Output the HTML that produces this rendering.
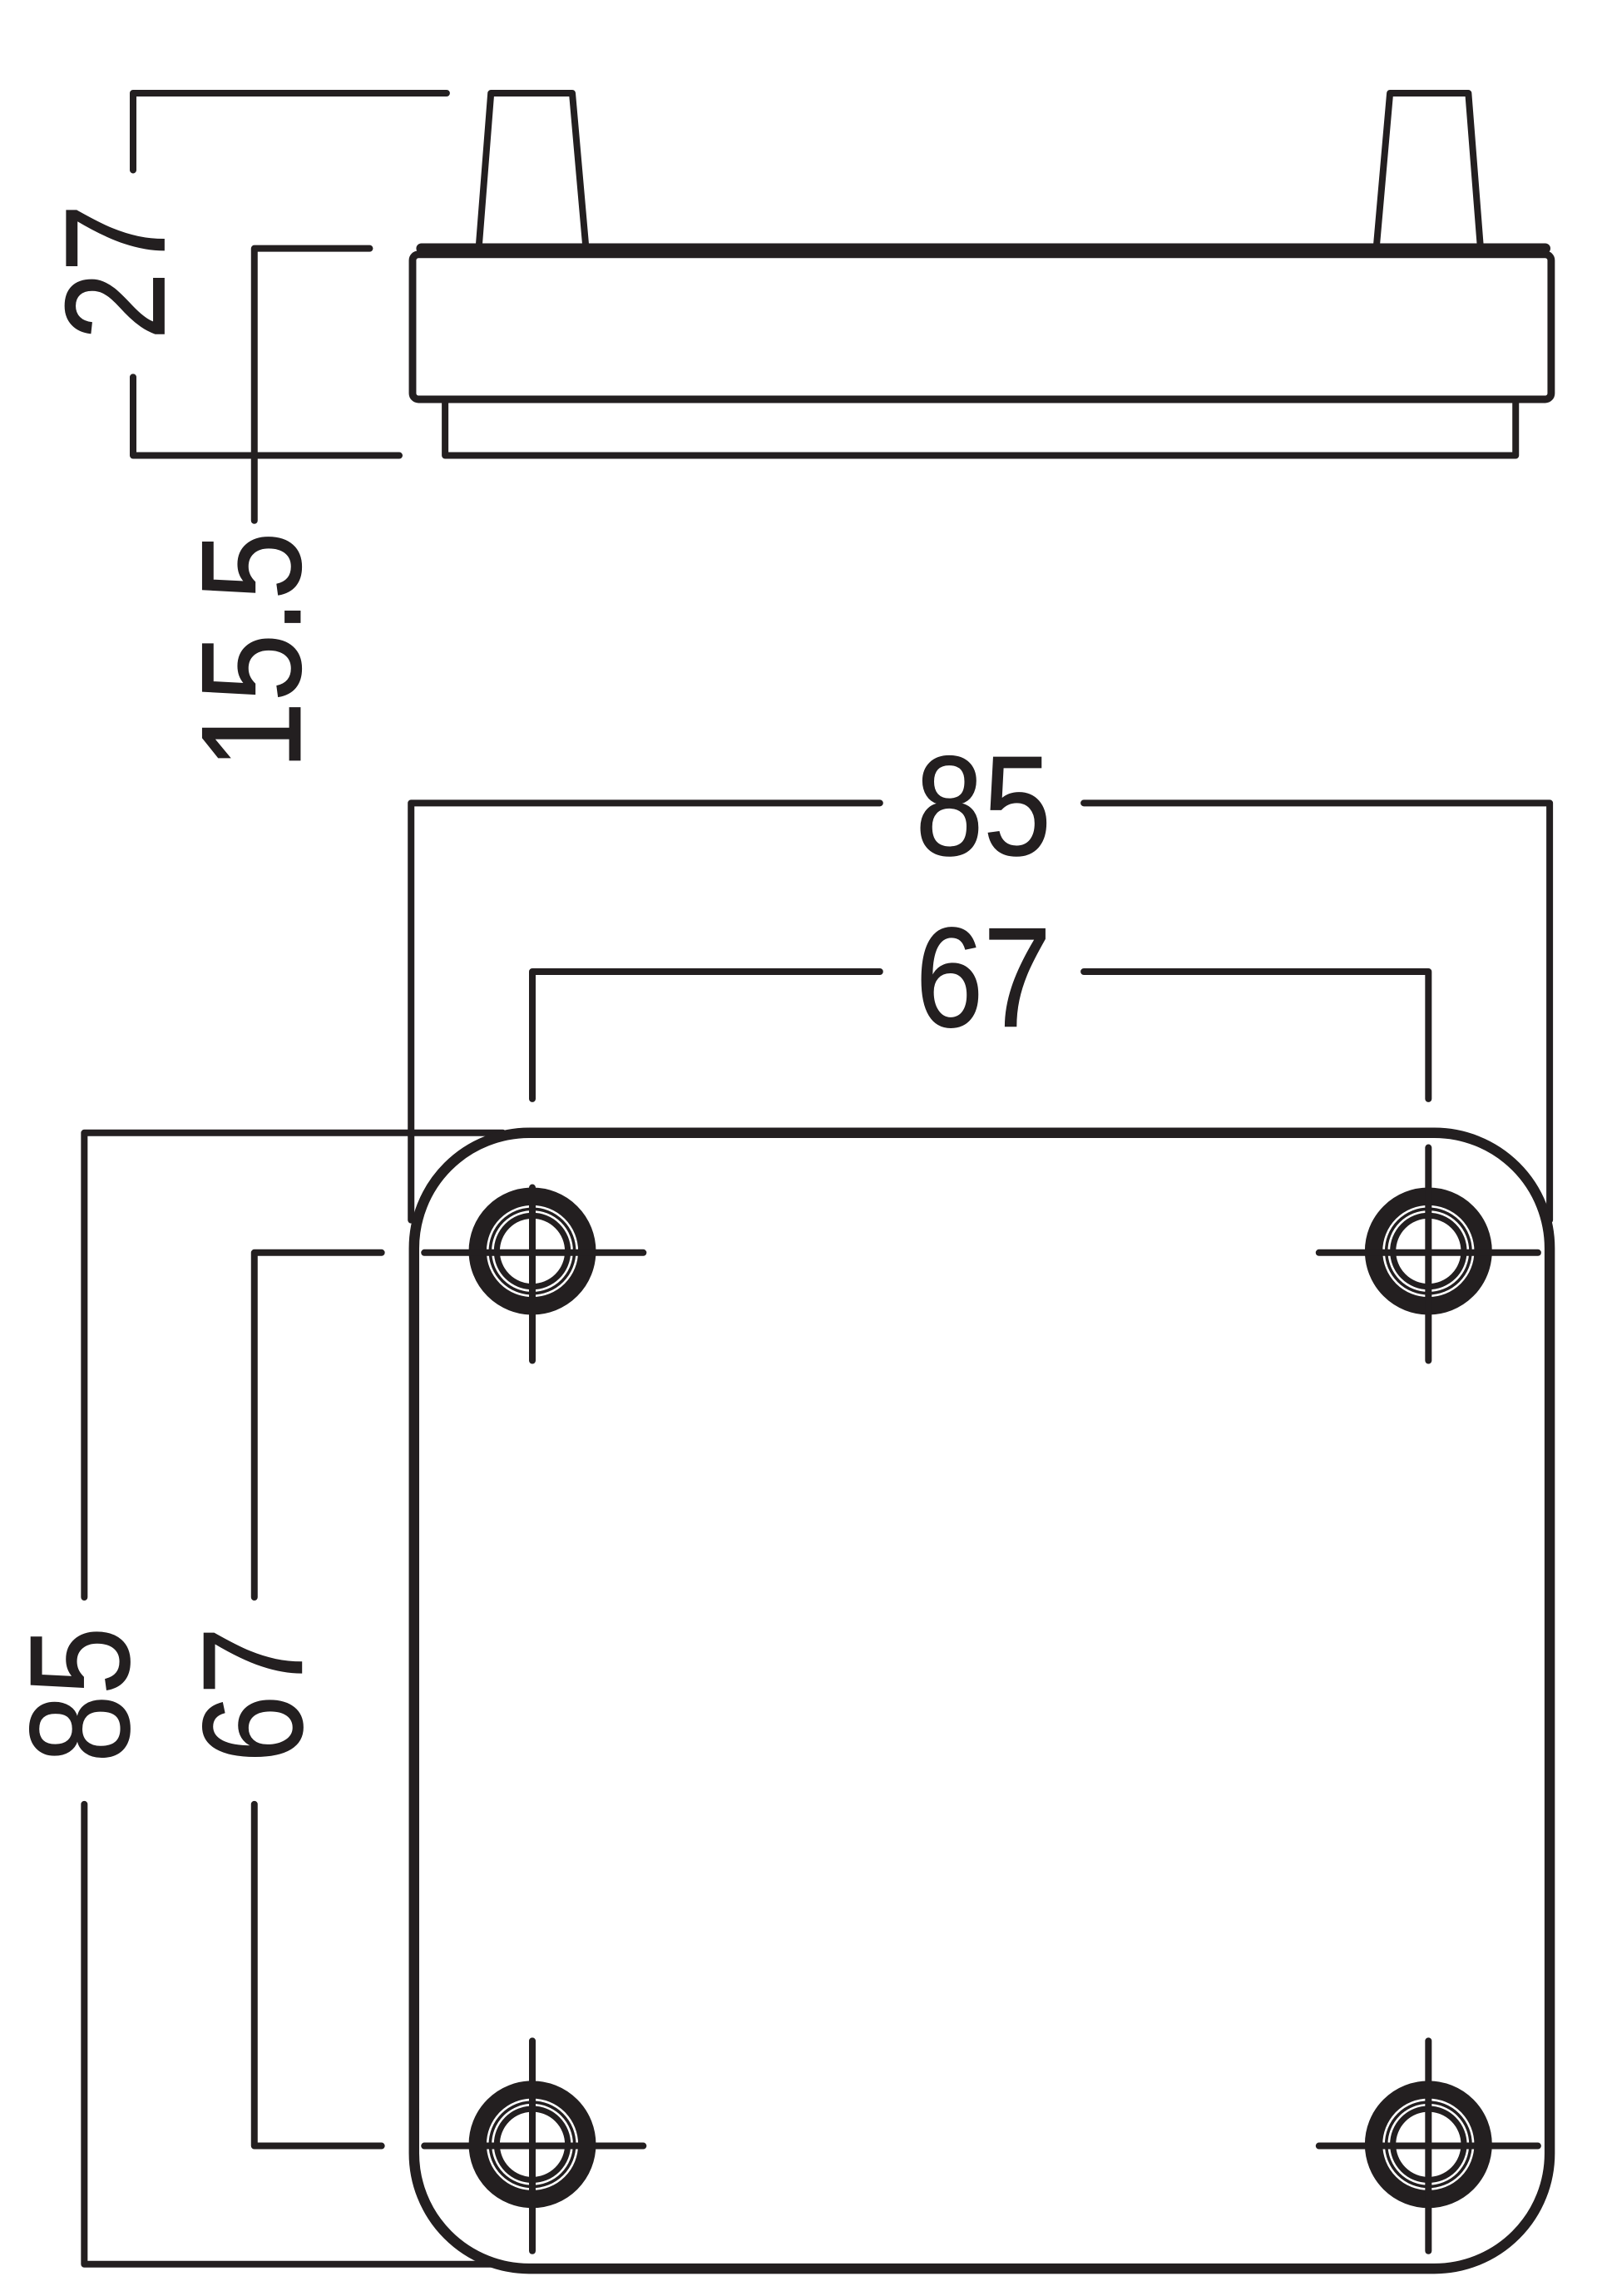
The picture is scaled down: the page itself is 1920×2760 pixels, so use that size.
<!DOCTYPE html>
<html><head><meta charset="utf-8"><style>html,body{margin:0;padding:0;background:#fff}svg{display:block}</style></head>
<body>
<svg width="1920" height="2760" viewBox="0 0 1080 1552.5" xmlns="http://www.w3.org/2000/svg">
<g fill="none" stroke="#231f20" stroke-linecap="round" stroke-linejoin="round">
<g stroke-width="4.5">
<polyline points="90,115 90,63 302,63"/>
<polyline points="90,255 90,308 270,308"/>
<polyline points="250,168 172,168 172,352"/>
<polyline points="324,165 332,63 387,63 396,165"/>
<polyline points="931,165 940,63 993,63 1001,165"/>
<polyline points="301,270 301,308 1025,308 1025,270"/>
</g>
<line x1="285" y1="168" x2="1045" y2="168" stroke-width="7"/>
<rect x="279" y="172" width="770" height="98" rx="4" stroke-width="5"/>
<g stroke-width="4.5">
<polyline points="278,825 278,543 595,543"/>
<polyline points="733,543 1048,543 1048,825"/>
<polyline points="360,743 360,657 595,657"/>
<polyline points="733,657 966,657 966,743"/>
<polyline points="340,766 57,766 57,1080"/>
<polyline points="57,1220 57,1531 340,1531"/>
<polyline points="258,847 172,847 172,1080"/>
<polyline points="172,1220 172,1451 258,1451"/>
</g>
<rect x="280" y="766" width="768" height="768" rx="78" stroke-width="7"/>
<g id="h">
<circle cx="360" cy="846" r="37" stroke-width="12"/>
<circle cx="360" cy="846" r="28.5" stroke-width="2"/>
<circle cx="360" cy="846" r="24" stroke-width="4"/>
</g>
<use href="#h" x="606"/>
<use href="#h" y="604"/>
<use href="#h" x="606" y="604"/>
<g stroke-width="4.5">
<line x1="287" y1="847" x2="435" y2="847"/><line x1="360" y1="803" x2="360" y2="920"/>
<line x1="892" y1="847" x2="1040" y2="847"/><line x1="966" y1="776" x2="966" y2="920"/>
<line x1="287" y1="1451" x2="435" y2="1451"/><line x1="360" y1="1380" x2="360" y2="1522"/>
<line x1="892" y1="1451" x2="1040" y2="1451"/><line x1="966" y1="1380" x2="966" y2="1522"/>
</g>
</g>
<g fill="#231f20" stroke="#231f20" stroke-width="0.6" font-family="Liberation Sans, sans-serif" font-size="96" text-anchor="middle">
<text transform="translate(665,578) scale(0.86,1)">85</text>
<text transform="translate(665,694) scale(0.86,1)">67</text>
<text transform="translate(111,184) rotate(-90) scale(0.86,1)">27</text>
<text transform="translate(203,440) rotate(-90) scale(0.86,1)">15.5</text>
<text transform="translate(87,1146) rotate(-90) scale(0.86,1)">85</text>
<text transform="translate(204,1146) rotate(-90) scale(0.86,1)">67</text>
</g>
</svg>
</body></html>
